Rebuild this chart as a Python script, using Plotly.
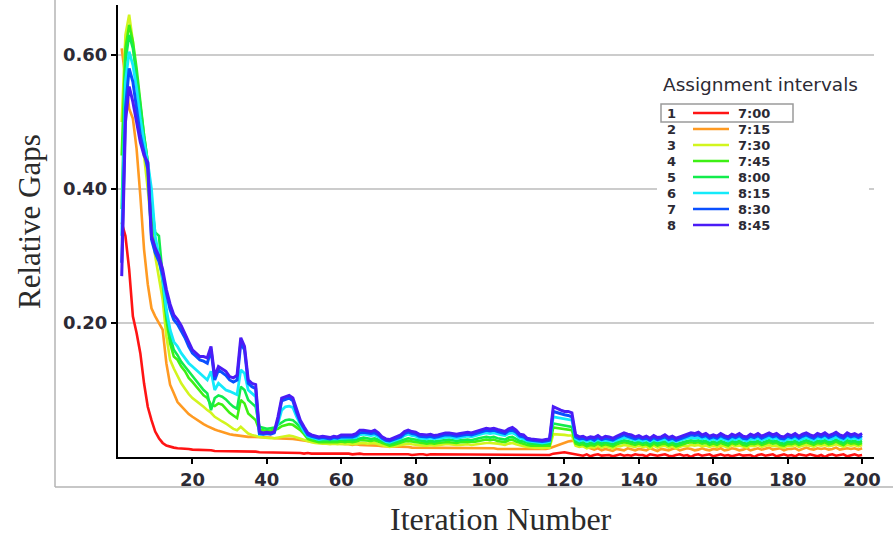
import plotly.graph_objects as go

# Relative gap per iteration (in thousandths) for each assignment interval
gap_0700 = [
    350, 330, 280, 210, 185, 155, 110, 75, 55, 38, 28, 21,
    17, 15, 14, 13, 13, 12, 12, 11, 11, 10, 10, 10,
    10, 9, 9, 9, 9, 9, 8, 8, 8, 8, 8, 8, 8, 7,
    7, 7, 6, 7, 6, 6, 7, 6, 6, 6, 6, 5,
    6, 5, 5, 6, 5, 5, 5, 5, 5, 5,
    5, 5, 4, 5, 5, 4, 4, 5, 4, 4, 5, 4, 4, 4, 5, 4, 4, 4, 3, 4,
    4, 4, 3, 4, 4, 3, 4, 4, 3, 4, 4, 3, 3, 4, 4, 3, 4, 3, 3, 4,
    3, 3, 4, 3, 3, 4, 3, 3, 3, 4, 3, 3, 3, 3, 4, 3,
    5, 6, 7, 7, 6, 5,
    4, 3, 2, 4, 1, 3, 4, 2, 3, 3, 1, 3, 4, 2, 3, 2, 4, 3,
    3, 1, 4, 3, 2, 3, 4, 2, 1, 3, 4, 2, 3, 0, 3, 4, 2, 3, 4, 1,
    3, 4, 2, 3, 1, 3, 4, 2, 3, 3, 0, 3, 4, 2, 3, 4, 1, 3, 4, 2,
    3, 1, 4, 3, 2, 4, 3, 1, 3, 0, 3, 4, 2, 3, 4, 1, 3, 4, 2, 3,
]
gap_0715 = [
    610, 565, 520, 505, 460, 390, 310, 258, 222, 210, 200, 190,
    140, 108, 95, 82, 76, 70, 64, 60, 56, 52, 49, 46,
    43, 41, 39, 37, 36, 34, 33, 32, 32, 31, 30, 30, 30, 30,
    30, 29, 29, 28, 28, 28, 27, 27, 27, 26, 25, 24,
    23, 23, 22, 22, 22, 21, 21, 21, 20, 20,
    19, 19, 18, 19, 18, 18, 17, 17, 18, 17, 16, 16, 15, 15, 16, 16, 15, 15, 14, 14,
    14, 14, 13, 14, 13, 14, 14, 13, 14, 13, 13, 14, 13, 13, 14, 13, 13, 14, 13, 13,
    13, 12, 12, 12, 12, 12, 11, 11, 11, 12, 12, 11, 11, 12, 12, 13,
    15, 18, 20, 22, 23, 24,
    24, 22, 18, 15, 13, 11, 13, 10, 12, 11, 9, 12, 11, 10, 13, 11, 10, 12,
    11, 10, 13, 11, 9, 12, 11, 10, 12, 13, 10, 11, 13, 12, 10, 11, 13, 11, 10, 12,
    11, 13, 10, 11, 13, 12, 10, 11, 13, 10, 12, 13, 11, 12, 14, 11, 12, 13, 10, 12,
    12, 13, 10, 12, 14, 12, 11, 13, 12, 13, 11, 12, 14, 11, 12, 13, 12, 13, 11, 13,
]
gap_0730 = [
    500, 630, 660, 620, 560, 500, 450, 400, 340, 300, 270, 235,
    180, 145, 132, 120, 110, 102, 94, 88, 84, 80, 75, 70,
    66, 60, 56, 53, 50, 46, 42, 40, 45, 40, 35, 33, 31, 30,
    29, 28, 28, 28, 29, 31, 32, 32, 31, 29, 27, 25,
    23, 22, 21, 20, 20, 20, 19, 20, 19, 20,
    19, 20, 19, 20, 21, 21, 20, 20, 21, 19, 17, 16, 15, 16, 17, 18, 19, 20, 19, 18,
    18, 17, 17, 18, 17, 18, 18, 19, 19, 18, 18, 18, 19, 19, 18, 19, 20, 21, 21, 21,
    21, 20, 19, 18, 20, 21, 19, 17, 16, 15, 14, 14, 14, 13, 14, 14,
    34, 34, 33, 33, 32, 32,
    17, 15, 16, 13, 15, 14, 17, 14, 16, 15, 13, 16, 16, 18, 17, 15, 15, 17,
    15, 16, 13, 17, 14, 16, 17, 14, 16, 13, 15, 17, 16, 18, 17, 18, 16, 17, 15, 17,
    15, 17, 16, 14, 18, 16, 17, 15, 14, 17, 16, 18, 15, 17, 18, 16, 17, 15, 14, 17,
    16, 18, 15, 17, 18, 17, 15, 18, 17, 18, 16, 17, 19, 17, 15, 18, 17, 18, 16, 18,
]
gap_0745 = [
    450, 610, 645, 620, 580, 525, 480, 440, 370, 320, 300, 260,
    205, 170, 150, 145, 135, 128, 118, 112, 105, 98, 92, 88,
    78, 76, 80, 78, 72, 66, 62, 58, 85, 80, 65, 60, 55, 40,
    40, 38, 39, 40, 42, 46, 48, 49, 48, 44, 40, 34,
    27, 25, 23, 22, 22, 22, 21, 22, 22, 23,
    22, 23, 22, 23, 25, 25, 24, 24, 25, 23, 20, 18, 17, 18, 20, 21, 23, 24, 23, 22,
    21, 20, 20, 21, 20, 21, 22, 22, 22, 21, 21, 22, 22, 23, 22, 23, 24, 25, 26, 25,
    26, 24, 23, 22, 25, 26, 23, 21, 20, 18, 17, 17, 16, 16, 17, 17,
    44, 43, 42, 41, 41, 40,
    20, 18, 19, 16, 18, 17, 20, 17, 19, 18, 16, 19, 20, 22, 21, 19, 18, 20,
    18, 19, 16, 20, 17, 19, 20, 17, 19, 16, 18, 20, 21, 22, 21, 22, 20, 21, 18, 20,
    18, 21, 19, 17, 21, 19, 21, 18, 17, 20, 19, 21, 18, 20, 22, 20, 21, 18, 17, 20,
    19, 21, 18, 20, 22, 20, 18, 21, 20, 22, 19, 20, 23, 20, 18, 22, 20, 21, 19, 21,
]
gap_0800 = [
    370, 590, 630, 610, 570, 520, 480, 440, 380, 335, 330, 270,
    215, 180, 160, 152, 142, 135, 128, 122, 115, 108, 100, 95,
    70, 88, 92, 90, 86, 80, 75, 72, 105, 100, 85, 80, 75, 45,
    44, 42, 43, 44, 48, 52, 55, 56, 55, 50, 44, 38,
    30, 28, 26, 25, 25, 25, 24, 25, 25, 26,
    25, 26, 25, 26, 28, 29, 28, 27, 28, 26, 23, 21, 20, 21, 23, 24, 27, 28, 27, 26,
    24, 23, 23, 24, 23, 24, 25, 26, 26, 25, 24, 25, 26, 26, 25, 27, 28, 29, 30, 29,
    30, 28, 27, 26, 29, 30, 27, 24, 23, 21, 20, 20, 19, 19, 20, 20,
    50, 49, 48, 47, 46, 45,
    23, 21, 22, 19, 21, 20, 23, 20, 22, 21, 19, 22, 23, 25, 24, 22, 21, 23,
    21, 22, 19, 23, 20, 22, 23, 20, 22, 19, 21, 23, 24, 25, 24, 25, 23, 24, 21, 23,
    21, 24, 22, 20, 24, 22, 24, 21, 20, 23, 22, 24, 21, 23, 25, 23, 24, 21, 20, 23,
    22, 24, 21, 23, 25, 23, 21, 24, 23, 25, 22, 23, 26, 23, 21, 25, 23, 24, 22, 24,
]
gap_0815 = [
    330, 560, 605, 585, 550, 505, 470, 440, 400, 330, 300, 265,
    220, 190, 172, 165, 155, 148, 140, 135, 130, 125, 120, 115,
    128, 100, 110, 105, 100, 98, 95, 93, 130, 125, 100, 95, 90, 34,
    34, 35, 35, 37, 50, 70, 75, 76, 74, 60, 48, 38,
    31, 29, 27, 26, 27, 27, 26, 27, 27, 28,
    28, 29, 28, 29, 33, 34, 33, 32, 33, 30, 26, 23, 22, 24, 26, 28, 32, 34, 32, 31,
    28, 27, 27, 28, 27, 28, 29, 30, 30, 29, 28, 29, 30, 31, 30, 32, 34, 35, 36, 35,
    36, 34, 33, 32, 35, 36, 33, 28, 27, 24, 23, 22, 22, 21, 22, 23,
    60, 59, 58, 57, 56, 55,
    27, 24, 26, 23, 25, 23, 26, 24, 25, 24, 23, 25, 27, 29, 28, 26, 25, 26,
    24, 26, 23, 26, 24, 25, 27, 23, 25, 23, 25, 26, 28, 29, 28, 29, 27, 28, 25, 27,
    25, 28, 26, 24, 27, 26, 28, 25, 24, 27, 26, 28, 25, 27, 29, 27, 28, 25, 24, 27,
    26, 28, 25, 27, 29, 27, 25, 28, 27, 29, 26, 27, 30, 27, 25, 29, 27, 28, 26, 28,
]
gap_0830 = [
    290, 520, 580, 560, 520, 480, 455, 430, 325, 305, 292, 272,
    245, 220, 205, 198, 188, 178, 165, 155, 150, 145, 143, 140,
    160, 115, 130, 126, 122, 115, 112, 115, 170, 160, 110, 105, 102, 35,
    34, 35, 34, 36, 55, 84, 86, 88, 84, 66, 52, 42,
    33, 31, 29, 28, 29, 28, 27, 29, 28, 30,
    30, 31, 30, 32, 36, 37, 36, 35, 36, 33, 28, 25, 24, 26, 28, 30, 35, 37, 35, 34,
    31, 30, 30, 31, 29, 30, 32, 33, 33, 32, 31, 32, 33, 34, 33, 35, 37, 39, 40, 39,
    40, 38, 37, 35, 39, 40, 37, 31, 30, 26, 25, 24, 24, 23, 24, 25,
    68, 66, 64, 63, 62, 60,
    30, 27, 28, 26, 28, 25, 29, 26, 28, 27, 25, 28, 30, 33, 31, 29, 27, 29,
    27, 28, 25, 29, 26, 28, 30, 26, 28, 25, 27, 29, 31, 33, 32, 33, 30, 32, 28, 30,
    28, 32, 29, 27, 31, 29, 32, 28, 27, 31, 29, 32, 28, 30, 33, 30, 32, 28, 27, 31,
    29, 32, 28, 31, 33, 30, 28, 32, 30, 33, 29, 31, 34, 30, 28, 33, 30, 32, 29, 32,
]
gap_0845 = [
    270, 500, 553, 530, 500, 470, 450, 440, 330, 312, 300, 280,
    250, 228, 212, 205, 196, 185, 172, 160, 155, 150, 150, 148,
    165, 120, 135, 132, 128, 120, 118, 122, 178, 165, 115, 110, 108, 38,
    36, 37, 36, 38, 60, 88, 90, 92, 88, 70, 55, 45,
    36, 33, 31, 30, 31, 30, 29, 31, 30, 33,
    33, 34, 33, 35, 40, 40, 39, 38, 40, 36, 30, 27, 26, 28, 30, 33, 38, 40, 38, 37,
    34, 33, 33, 34, 32, 33, 35, 36, 36, 35, 34, 35, 36, 37, 36, 38, 40, 42, 43, 42,
    43, 41, 40, 38, 42, 44, 40, 34, 33, 28, 27, 26, 26, 25, 26, 27,
    75, 72, 70, 68, 68, 66,
    33, 30, 31, 28, 30, 29, 32, 28, 31, 30, 28, 31, 33, 36, 34, 33, 30, 32,
    29, 31, 28, 32, 29, 30, 33, 29, 31, 28, 30, 32, 34, 36, 35, 37, 33, 35, 31, 33,
    31, 35, 32, 30, 34, 32, 35, 31, 30, 34, 32, 35, 31, 33, 36, 33, 35, 31, 30, 34,
    32, 35, 31, 34, 36, 33, 31, 35, 33, 36, 32, 34, 37, 33, 31, 36, 33, 35, 32, 35,
]

series = [gap_0700, gap_0715, gap_0730, gap_0745,
          gap_0800, gap_0815, gap_0830, gap_0845]
interval_ids = ["1", "2", "3", "4", "5", "6", "7", "8"]
interval_times = ["7:00", "7:15", "7:30", "7:45", "8:00", "8:15", "8:30", "8:45"]
colors = ["#ff1414", "#ff9a22", "#d2f51e", "#3ef014", "#12ec4c",
          "#14eafa", "#0a50ff", "#4a1cf6"]
widths = [2.6, 2.6, 2.6, 2.6, 2.6, 2.8, 3.0, 3.0]

x_ticks = [20, 40, 60, 80, 100, 120, 140, 160, 180, 200]
y_ticks = [0.2, 0.4, 0.6]
y_tick_text = ["0.20", "0.40", "0.60"]

W, H = 893, 537
L, R, T, B = 118, 19, 5, 80
PW, PH = W - L - R, H - T - B


def px(xp):
    return (xp - L) / PW


def py(yp):
    return (H - B - yp) / PH


fig = go.Figure()
for vals, name, col, lw in zip(series, interval_times, colors, widths):
    fig.add_trace(go.Scatter(
        x=list(range(1, len(vals) + 1)),
        y=[v / 1000 for v in vals],
        mode="lines", name=name,
        line=dict(color=col, width=lw),
        showlegend=False,
    ))

tick_font = dict(family="DejaVu Sans", size=18, color="#2c2a34", weight="bold")
fig.update_xaxes(
    range=[0, 203.2], tickvals=x_ticks, ticks="outside", ticklen=5,
    tickwidth=2, tickcolor="#000", showline=True, linecolor="#000",
    linewidth=2, showgrid=False, zeroline=False, tickfont=tick_font,
)
fig.update_yaxes(
    range=[0, PH / 670], tickvals=y_ticks, ticktext=y_tick_text,
    ticks="outside", ticklen=5, tickwidth=2, tickcolor="#000",
    showline=True, linecolor="#000", linewidth=2, showgrid=True,
    gridcolor="#cccccc", gridwidth=1.5, zeroline=False, tickfont=tick_font,
)

shapes = [
    # outer frame lines
    dict(type="line", xref="paper", yref="paper", x0=px(55), x1=px(55),
         y0=py(487), y1=py(0), line=dict(color="#b4b4b4", width=1.5)),
    dict(type="line", xref="paper", yref="paper", x0=px(55), x1=px(893),
         y0=py(487), y1=py(487), line=dict(color="#b4b4b4", width=1.5)),
    # legend background
    dict(type="rect", xref="paper", yref="paper", x0=px(657), x1=px(869),
         y0=py(238), y1=py(66), fillcolor="white", line=dict(width=0),
         layer="above"),
    # highlight box around the first legend row
    dict(type="rect", xref="paper", yref="paper", x0=px(661), x1=px(793),
         y0=py(122), y1=py(104), line=dict(color="#9a9a9a", width=1.5),
         layer="above"),
]

annotations = [
    dict(text="Relative Gaps", xref="paper", yref="paper", x=px(29), y=py(222),
         textangle=-90, showarrow=False, xanchor="center", yanchor="middle",
         font=dict(family="Liberation Serif", size=31, color="#2a2a2a")),
    dict(text="Iteration Number", xref="paper", yref="paper", x=px(501),
         y=py(519), showarrow=False, xanchor="center", yanchor="middle",
         font=dict(family="Liberation Serif", size=32, color="#2a2a2a")),
    dict(text="Assignment intervals", xref="paper", yref="paper", x=px(661),
         y=py(84), showarrow=False, xanchor="left", yanchor="middle",
         font=dict(family="DejaVu Sans", size=18.5, color="#2c2a34")),
]

legend_font = dict(family="DejaVu Sans", size=13, color="#2c2a34", weight="bold")
for k, (num, label, col) in enumerate(zip(interval_ids, interval_times, colors)):
    row_y = 113 + 16 * k
    shapes.append(dict(type="line", xref="paper", yref="paper",
                       x0=px(693), x1=px(729), y0=py(row_y), y1=py(row_y),
                       line=dict(color=col, width=2.6), layer="above"))
    annotations.append(dict(text=num, xref="paper", yref="paper", x=px(671),
                            y=py(row_y), showarrow=False, xanchor="center",
                            yanchor="middle", font=legend_font))
    annotations.append(dict(text=label, xref="paper", yref="paper", x=px(736),
                            y=py(row_y), showarrow=False, xanchor="left",
                            yanchor="middle", font=legend_font))

fig.update_layout(
    width=W, height=H,
    margin=dict(l=L, r=R, t=T, b=B),
    paper_bgcolor="white", plot_bgcolor="white",
    shapes=shapes, annotations=annotations,
)

fig.write_html("out.html")
